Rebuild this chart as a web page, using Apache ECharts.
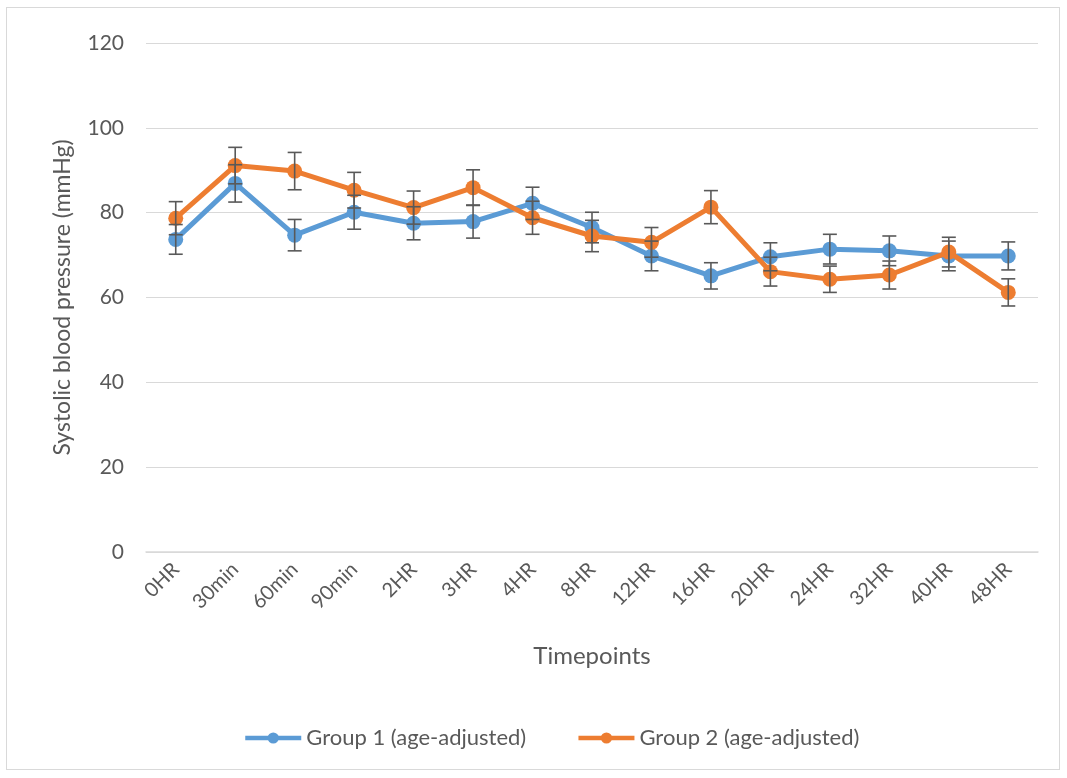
<!DOCTYPE html>
<html>
<head>
<meta charset="utf-8">
<script src="https://cdn.jsdelivr.net/npm/echarts@6/dist/echarts.min.js"></script>
<style>
html,body{margin:0;padding:0;background:#fff;}
#frame{position:absolute;left:6px;top:7px;width:1054px;height:763px;border:1px solid #d9d9d9;box-sizing:border-box;}
#chart{position:absolute;left:0;top:0;width:1067px;height:778px;}
</style>
</head>
<body>
<div id="frame"></div>
<div id="chart"></div>
<script>
const categories = ['0HR','30min','60min','90min','2HR','3HR','4HR','8HR','12HR','16HR','20HR','24HR','32HR','40HR','48HR'];
const group1 = [73.7, 86.9, 74.7, 80.1, 77.5, 77.9, 82.2, 76.5, 69.8, 65.1, 69.6, 71.4, 71.0, 69.8, 69.8];
const group1Err = [3.5, 4.4, 3.7, 4.0, 3.9, 3.9, 3.8, 3.6, 3.5, 3.1, 3.3, 3.5, 3.5, 3.5, 3.3];
const group2 = [78.7, 91.1, 89.8, 85.3, 81.2, 85.9, 78.8, 74.5, 73.0, 81.3, 66.1, 64.3, 65.3, 70.7, 61.2];
const group2Err = [3.9, 4.3, 4.4, 4.2, 3.9, 4.2, 3.9, 3.7, 3.5, 3.9, 3.4, 3.1, 3.3, 3.5, 3.2];
const yTicks = [0, 20, 40, 60, 80, 100, 120];
const seriesNames = ['Group 1 (age-adjusted)', 'Group 2 (age-adjusted)'];
const colors = ['#5B9BD5', '#ED7D31'];

const FONT = 'Lato, "Open Sans", sans-serif';
const chart = echarts.init(document.getElementById('chart'));

function errData(vals, errs) {
  return vals.map((v, i) => [i, v - errs[i], v + errs[i]]);
}
function renderErr(params, api) {
  const x = api.value(0);
  const lo = api.coord([x, api.value(1)]);
  const hi = api.coord([x, api.value(2)]);
  const hw = 7;
  const style = { stroke: '#595959', lineWidth: 1.6 };
  return {
    type: 'group',
    children: [
      { type: 'line', shape: { x1: hi[0], y1: hi[1], x2: lo[0], y2: lo[1] }, style },
      { type: 'line', shape: { x1: hi[0] - hw, y1: hi[1], x2: hi[0] + hw, y2: hi[1] }, style },
      { type: 'line', shape: { x1: lo[0] - hw, y1: lo[1], x2: lo[0] + hw, y2: lo[1] }, style }
    ]
  };
}

chart.setOption({
  animation: false,
  color: colors,
  textStyle: { fontFamily: FONT },
  grid: { left: 146, right: 29, top: 43, bottom: 226, containLabel: false },
  legend: {
    data: seriesNames,
    bottom: 24,
    left: 238,
    itemWidth: 56,
    itemHeight: 14,
    itemGap: 50,
    lineStyle: { width: 4.5 },
    textStyle: { fontFamily: FONT, fontSize: 22, color: '#595959' }
  },
  xAxis: {
    type: 'category',
    data: categories,
    boundaryGap: true,
    name: 'Timepoints',
    nameLocation: 'middle',
    nameGap: 92,
    nameTextStyle: { fontFamily: FONT, fontSize: 24, color: '#595959' },
    axisLine: { lineStyle: { color: '#d9d9d9', width: 1.5 } },
    axisTick: { show: false },
    axisLabel: { rotate: 45, fontFamily: FONT, fontSize: 20, color: '#595959', margin: 14, interval: 0 }
  },
  yAxis: {
    type: 'value',
    min: yTicks[0],
    max: yTicks[yTicks.length - 1],
    interval: 20,
    name: 'Systolic blood pressure (mmHg)',
    nameLocation: 'middle',
    nameGap: 72,
    nameTextStyle: { fontFamily: FONT, fontSize: 23, color: '#595959' },
    axisLine: { show: false },
    axisTick: { show: false },
    splitLine: { lineStyle: { color: '#d9d9d9', width: 1.2 } },
    axisLabel: { fontFamily: FONT, fontSize: 21, color: '#595959', margin: 22 }
  },
  series: [
    {
      name: seriesNames[0], type: 'line', data: group1, z: 2,
      symbol: 'circle', symbolSize: 15,
      lineStyle: { width: 5, color: colors[0] },
      itemStyle: { color: colors[0] }
    },
    {
      name: seriesNames[1], type: 'line', data: group2, z: 3,
      symbol: 'circle', symbolSize: 15,
      lineStyle: { width: 5, color: colors[1] },
      itemStyle: { color: colors[1] }
    },
    { type: 'custom', renderItem: renderErr, data: errData(group1, group1Err), z: 4, silent: true },
    { type: 'custom', renderItem: renderErr, data: errData(group2, group2Err), z: 5, silent: true }
  ]
});
</script>
</body>
</html>
